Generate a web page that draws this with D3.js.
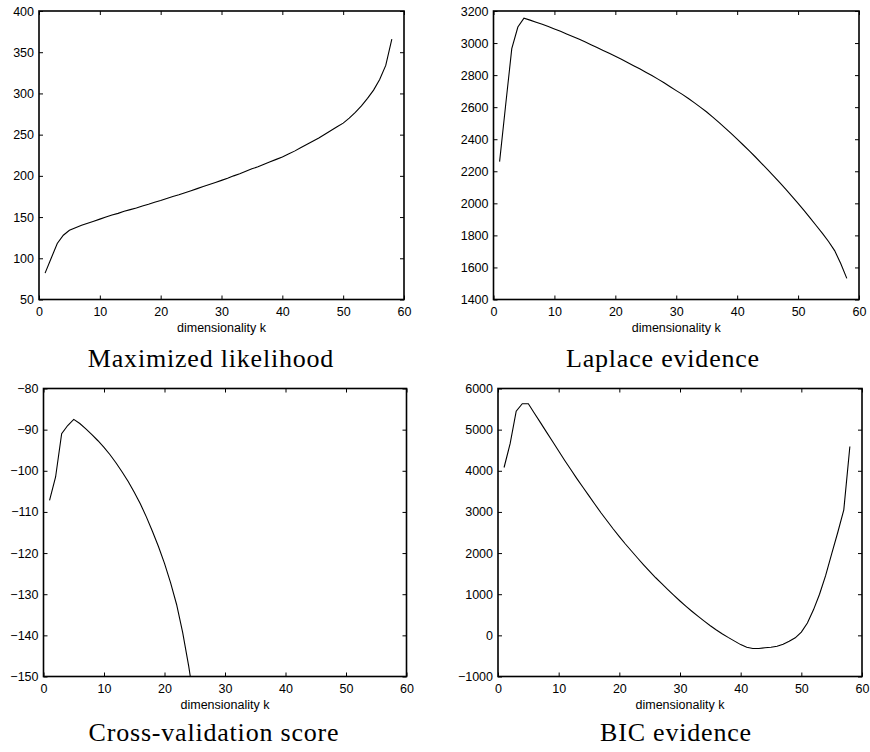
<!DOCTYPE html>
<html>
<head>
<meta charset="utf-8">
<script src="https://cdn.jsdelivr.net/npm/d3@7"></script>
<style>
  body { margin: 0; background: #fff; }
  svg { display: block; }
  .tick text { font-family: "Liberation Sans", Arial, sans-serif; font-size: 12.5px; fill: #000; }
  .xlab { font-family: "Liberation Sans", Arial, sans-serif; font-size: 12.5px; fill: #000; }
  .titre { font-family: "Liberation Serif", "Times New Roman", serif; font-size: 26px; fill: #000; letter-spacing: 0.8px; }
</style>
</head>
<body>
<script>
// dimensionnalité k (axe x)
const dims = [1, 2, 3, 4, 5, 6, 7, 8, 9, 10, 11, 12, 13, 14, 15, 16, 17, 18, 19, 20,
  21, 22, 23, 24, 25, 26, 27, 28, 29, 30, 31, 32, 33, 34, 35, 36, 37, 38, 39, 40,
  41, 42, 43, 44, 45, 46, 47, 48, 49, 50, 51, 52, 53, 54, 55, 56, 57, 58]

// valeurs
const likelihood = [82, 100, 118, 128, 134, 137, 140, 142.5, 145, 147.5, 150, 152.5, 154.5, 157, 159, 161, 163.5, 165.5, 168, 170,
  172.5, 175, 177, 179.5, 182, 184.5, 187, 189.5, 192, 194.5, 197, 200, 202.5, 205.5, 208.5, 211, 214, 217, 220, 223,
  226.5, 230, 234, 238, 242, 246, 250.5, 255, 259.5, 264, 270, 277, 285, 294, 304, 317, 334, 366]

const laplace = [2260, 2615, 2965, 3100, 3155, 3143, 3130, 3117, 3103, 3088, 3073, 3057, 3041, 3025, 3008, 2990, 2972, 2954, 2936, 2918,
  2899, 2879, 2859, 2839, 2818, 2797, 2775, 2752, 2727, 2703, 2680, 2654, 2627, 2599, 2570, 2538, 2505, 2471, 2436, 2400,
  2364, 2327, 2289, 2250, 2210, 2170, 2129, 2087, 2044, 2000, 1955, 1908, 1860, 1812, 1762, 1705, 1625, 1532]

// la courbe sort du cadre après k = 24
const crossval = [-107.2, -101.5, -91, -89, -87.5, -88.5, -89.8, -91.2, -92.7, -94.3, -96.1, -98.1, -100.3, -102.6, -105.2, -108, -111.2, -114.7, -118.4, -122.5,
  -127.2, -132.5, -139.3, -147.5, -157]

const bic = [4080, 4660, 5450, 5630, 5630, 5400, 5170, 4940, 4710, 4480, 4250, 4030, 3810, 3600, 3390, 3180, 2975, 2780, 2585, 2400,
  2220, 2050, 1880, 1715, 1555, 1400, 1255, 1110, 970, 835, 705, 580, 460, 345, 235, 130, 35, -55, -140, -225,
  -290, -320, -320, -300, -290, -265, -215, -145, -60, 80, 300, 620, 1000, 1450, 1980, 2500, 3050, 4590]

// ticks
const xTicks = [0, 10, 20, 30, 40, 50, 60]
const ticksLikelihood = [50, 100, 150, 200, 250, 300, 350, 400]
const ticksLaplace = [1400, 1600, 1800, 2000, 2200, 2400, 2600, 2800, 3000, 3200]
const ticksCrossval = [-150, -140, -130, -120, -110, -100, -90, -80]
const ticksBic = [-1000, 0, 1000, 2000, 3000, 4000, 5000, 6000]

const xLabel = "dimensionality k"
const titres = ["Maximized likelihood", "Laplace evidence", "Cross-validation score", "BIC evidence"]


let svg = d3.select("body")
    .append("svg")
    .attr("width", 870)
    .attr("height", 752)

const fmt = d3.format("d")

function panel(id, box, values, yTicks, titre, titreX, titreY) {

    let x = d3.scaleLinear().domain([0, 60]).range([box.x0, box.x1])
    let y = d3.scaleLinear().domain([yTicks[0], yTicks[yTicks.length - 1]]).range([box.y1, box.y0])

    let g = svg.append("g")

    // clip pour que la courbe reste dans le cadre
    svg.append("clipPath")
        .attr("id", "clip" + id)
        .append("rect")
        .attr("x", box.x0)
        .attr("y", box.y0)
        .attr("width", box.x1 - box.x0)
        .attr("height", box.y1 - box.y0)

    let points = values.map((v, i) => [dims[i], v])

    let line = d3.line()
        .x(d => x(d[0]))
        .y(d => y(d[1]))

    g.append("path")
        .datum(points)
        .attr("d", line)
        .attr("fill", "none")
        .attr("stroke", "#000")
        .attr("stroke-width", 1.1)
        .attr("clip-path", "url(#clip" + id + ")")

    // axes avec ticks vers l'intérieur
    g.append("g")
        .attr("transform", "translate(0," + box.y1 + ")")
        .call(d3.axisBottom(x).tickValues(xTicks).tickFormat(fmt).tickSizeInner(-4).tickSizeOuter(0).tickPadding(8))

    g.append("g")
        .attr("transform", "translate(0," + box.y0 + ")")
        .call(d3.axisTop(x).tickValues(xTicks).tickFormat("").tickSizeInner(-4).tickSizeOuter(0))

    g.append("g")
        .attr("transform", "translate(" + box.x0 + ",0)")
        .call(d3.axisLeft(y).tickValues(yTicks).tickFormat(fmt).tickSizeInner(-4).tickSizeOuter(0).tickPadding(5))

    g.append("g")
        .attr("transform", "translate(" + box.x1 + ",0)")
        .call(d3.axisRight(y).tickValues(yTicks).tickFormat("").tickSizeInner(-4).tickSizeOuter(0))

    g.selectAll(".domain").remove()
    g.selectAll(".tick line").attr("stroke", "#000").attr("stroke-width", 1)

    g.append("rect")
        .attr("x", box.x0)
        .attr("y", box.y0)
        .attr("width", box.x1 - box.x0)
        .attr("height", box.y1 - box.y0)
        .attr("fill", "none")
        .attr("stroke", "#000")
        .attr("stroke-width", 1.6)

    g.append("text")
        .attr("class", "xlab")
        .attr("x", (box.x0 + box.x1) / 2)
        .attr("y", box.y1 + 32)
        .attr("text-anchor", "middle")
        .text(xLabel)

    g.append("text")
        .attr("class", "titre")
        .attr("x", titreX)
        .attr("y", titreY)
        .attr("text-anchor", "middle")
        .text(titre)
}

panel(1, { x0: 39, x1: 404, y0: 11, y1: 299.5 }, likelihood, ticksLikelihood, titres[0], 211, 367)
panel(2, { x0: 493.5, x1: 859, y0: 11, y1: 299.5 }, laplace, ticksLaplace, titres[1], 663, 367)
panel(3, { x0: 43.5, x1: 406.5, y0: 388.5, y1: 676.5 }, crossval, ticksCrossval, titres[2], 214, 741)
panel(4, { x0: 498, x1: 862, y0: 388.5, y1: 676.5 }, bic, ticksBic, titres[3], 676, 741)
</script>
</body>
</html>
